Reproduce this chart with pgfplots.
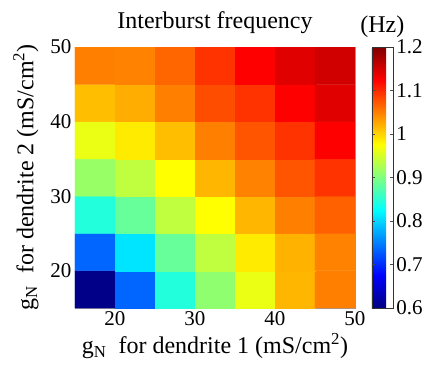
\documentclass[border=0pt]{standalone}
\usepackage{pgfplots}
\pgfplotsset{compat=1.18}
\usepackage{fontspec}
\setmainfont{Liberation Serif}
\begin{document}
\begin{tikzpicture}
\begin{axis}[
  at={(0,0)}, anchor=south west,
  scale only axis,
  width=280pt, height=261pt,
  xmin=15, xmax=50, ymin=15, ymax=50,
  xtick={20,30,40,50}, ytick={20,30,40,50},
  xticklabels={20,30,40,50}, yticklabels={20,30,40,50},
  tick align=inside,
  major tick length=4pt,
  axis line style={gray!80},
  tick style={gray!60},
  tick label style={font=\fontsize{21}{24}\selectfont},
  label style={font=\fontsize{24}{28}\selectfont},
  title style={font=\fontsize{24}{28}\selectfont, yshift=4pt},
  title={Interburst frequency},
  xlabel={g\textsubscript{N}\ \ for dendrite 1 (mS/cm\textsuperscript{2})},
  ylabel={g\textsubscript{N}\ \ for dendrite 2 (mS/cm\textsuperscript{2})},
  xlabel style={yshift=-1pt},
  ylabel style={yshift=5pt},
  colormap/jet,
  point meta min=0.6, point meta max=1.2,
  colorbar,
  colorbar style={
    width=21pt,
    at={(1.06,0)}, anchor=south west,
    height=261pt,
    ytick={0.6,0.7,0.8,0.9,1,1.1,1.2},
    yticklabels={0.6,0.7,0.8,0.9,1,1.1,1.2},
    yticklabel style={font=\fontsize{21}{24}\selectfont},
    tick align=inside,
    major tick length=3pt,
    axis line style={black!80},
    tick style={black!70},
    title={(Hz)},
    title style={font=\fontsize{24}{28}\selectfont, yshift=0pt},
  },
]
\addplot[matrix plot*, mesh/cols=7, point meta=explicit] table[meta=c] {
x y c
17.5 17.5 0.605
22.5 17.5 0.735
27.5 17.5 0.845
32.5 17.5 0.91
37.5 17.5 0.963
42.5 17.5 1.018
47.5 17.5 1.05
17.5 22.5 0.735
22.5 22.5 0.81
27.5 22.5 0.885
32.5 22.5 0.9375
37.5 22.5 0.987
42.5 22.5 1.02
47.5 22.5 1.048
17.5 27.5 0.845
22.5 27.5 0.885
27.5 27.5 0.9375
32.5 27.5 0.975
37.5 27.5 1.018
42.5 27.5 1.05
47.5 27.5 1.068
17.5 32.5 0.915
22.5 32.5 0.9375
27.5 32.5 0.975
32.5 32.5 1.018
37.5 32.5 1.048
42.5 32.5 1.075
47.5 32.5 1.095
17.5 37.5 0.963
22.5 37.5 0.987
27.5 37.5 1.0125
32.5 37.5 1.05
37.5 37.5 1.075
42.5 37.5 1.095
47.5 37.5 1.125
17.5 42.5 1.0125
22.5 42.5 1.023
27.5 42.5 1.05
32.5 42.5 1.08
37.5 42.5 1.095
42.5 42.5 1.125
47.5 42.5 1.143
17.5 47.5 1.05
22.5 47.5 1.048
27.5 47.5 1.065
32.5 47.5 1.095
37.5 47.5 1.125
42.5 47.5 1.143
47.5 47.5 1.152
};
\end{axis}
\path (-75pt,-57pt) rectangle (353pt,308pt);
\end{tikzpicture}
\end{document}
